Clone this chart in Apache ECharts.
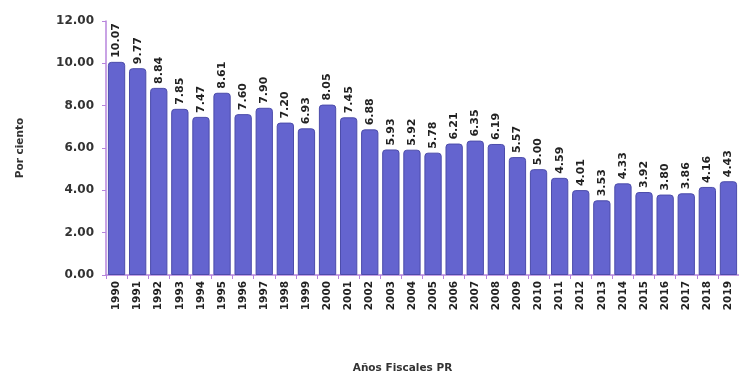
<!DOCTYPE html>
<html>
<head>
<meta charset="utf-8">
<script src="https://cdn.jsdelivr.net/npm/echarts@6/dist/echarts.min.js"></script>
<style>
  html, body { margin: 0; padding: 0; background: #fff; }
  #chart { width: 739px; height: 379px; }
</style>
</head>
<body>
<div id="chart"></div>
<script>
// Fiscal years of Puerto Rico
const years = ['1990','1991','1992','1993','1994','1995','1996','1997','1998','1999',
  '2000','2001','2002','2003','2004','2005','2006','2007','2008','2009',
  '2010','2011','2012','2013','2014','2015','2016','2017','2018','2019'];

// Percentage per fiscal year
const values = [10.07, 9.77, 8.84, 7.85, 7.47, 8.61, 7.60, 7.90, 7.20, 6.93,
  8.05, 7.45, 6.88, 5.93, 5.92, 5.78, 6.21, 6.35, 6.19, 5.57,
  5.00, 4.59, 4.01, 3.53, 4.33, 3.92, 3.80, 3.86, 4.16, 4.43];

const yTicks = [0, 2, 4, 6, 8, 10, 12];

const font = 'DejaVu Sans';
const axisPurple = '#b784dc';

const chart = echarts.init(document.getElementById('chart'), null, { renderer: 'canvas' });
chart.setOption({
  animation: false,
  backgroundColor: '#ffffff',
  grid: { left: 106, right: 0, top: 21, bottom: 103, containLabel: false },
  xAxis: {
    type: 'category',
    data: years,
    name: 'Años Fiscales PR',
    nameLocation: 'middle',
    nameGap: 88,
    nameTextStyle: { fontFamily: font, fontWeight: 'bold', fontSize: 10.5, color: '#333', padding: [0, 40, 0, 0] },
    axisLine: { lineStyle: { color: axisPurple, width: 1.5 } },
    axisTick: { show: true, alignWithLabel: false, length: 4, lineStyle: { color: axisPurple } },
    axisLabel: { rotate: 90, interval: 0, margin: 6, fontFamily: font, fontWeight: 'bold', fontSize: 10.5, color: '#222' }
  },
  yAxis: {
    type: 'value',
    min: yTicks[0],
    max: yTicks[yTicks.length - 1],
    interval: 2,
    name: 'Por ciento',
    nameLocation: 'middle',
    nameGap: 80,
    nameRotate: 90,
    nameTextStyle: { fontFamily: font, fontWeight: 'bold', fontSize: 10.5, color: '#333' },
    axisLine: { show: true, lineStyle: { color: axisPurple, width: 1.5 } },
    axisTick: { show: true, length: 4, lineStyle: { color: axisPurple } },
    splitLine: { show: false },
    axisLabel: {
      margin: 12, fontFamily: font, fontWeight: 'bold', fontSize: 12, color: '#333',
      formatter: v => v.toFixed(2)
    }
  },
  series: [{
    type: 'bar',
    data: values,
    barCategoryGap: '18%',
    itemStyle: {
      color: '#6464cf',
      borderColor: '#4c4caa',
      borderWidth: 1,
      borderRadius: [3, 3, 0, 0]
    },
    label: {
      show: true,
      position: 'top',
      rotate: 90,
      align: 'left',
      verticalAlign: 'middle',
      distance: 4,
      fontFamily: font,
      fontWeight: 'bold',
      fontSize: 11,
      color: '#222',
      formatter: p => p.value.toFixed(2)
    }
  }]
});
</script>
</body>
</html>
